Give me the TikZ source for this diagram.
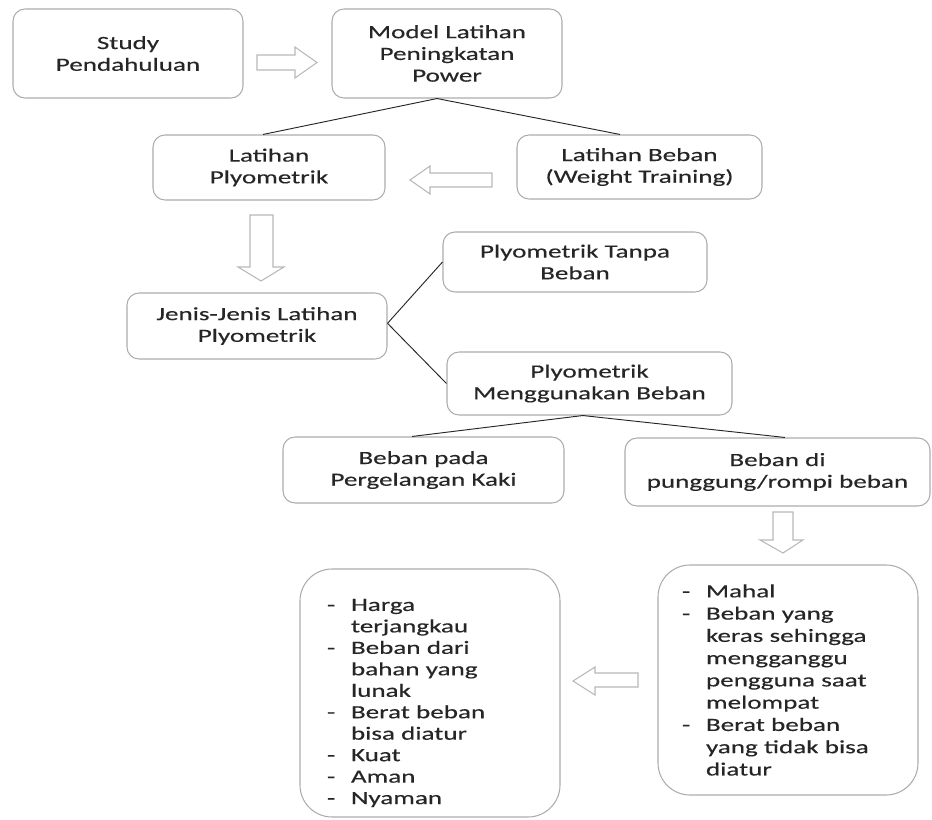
\documentclass[tikz,border=0pt]{standalone}
\usepackage{fontspec}
\setmainfont{Carlito}[FakeStretch=1.45, FakeBold=0.3]
\usepackage{xcolor}
\usepackage{tikz}
\usetikzlibrary{positioning}
\definecolor{boxgray}{RGB}{172,172,172}
\definecolor{arrgray}{RGB}{185,185,185}
\definecolor{inkgray}{RGB}{38,38,38}
\newcommand{\itm}[1]{\makebox[18pt][l]{-}#1}
\newcommand{\cnt}[1]{\hspace*{18pt}#1}

\begin{document}
\begin{tikzpicture}[x=0.75pt, y=-0.75pt,
    every node/.style={font=\fontsize{14}{16.3}\selectfont, text=inkgray},
    box/.style={draw=boxgray, line width=0.8pt, rounded corners=9pt, align=center, inner sep=0pt},
    listbox/.style={draw=boxgray, line width=0.8pt, rounded corners=24pt, align=left, inner ysep=0pt},
    blockarrow/.style={draw=arrgray, line width=0.8pt, fill=white},
    link/.style={draw=inkgray, line width=0.7pt}]
    \useasboundingbox (0,0) rectangle (932,820);

    \node[box, minimum width=172.5pt, minimum height=66.75pt] (study) at (128,53.5) {Study\\Pendahuluan};
    \node[box, minimum width=172.5pt, minimum height=66.75pt] (model) at (447,53.5) {Model Latihan\\Peningkatan\\Power};
    \node[box, minimum width=174pt, minimum height=48.75pt] (lplyo) at (269,167.5) {Latihan\\Plyometrik};
    \node[box, minimum width=183.75pt, minimum height=48pt] (lbeban) at (639.5,167) {Latihan Beban\\(Weight Training)};
    \node[box, minimum width=195pt, minimum height=49.5pt] (jenis) at (257,326) {Jenis-Jenis Latihan\\Plyometrik};
    \node[box, minimum width=198pt, minimum height=45pt] (tanpa) at (575,262) {Plyometrik Tanpa\\Beban};
    \node[box, minimum width=213.75pt, minimum height=47.25pt] (pakai) at (589.5,383.5) {Plyometrik\\Menggunakan Beban};
    \node[box, minimum width=210.75pt, minimum height=49.5pt] (kaki) at (423.5,470) {Beban pada\\Pergelangan Kaki};
    \node[box, minimum width=228.75pt, minimum height=51pt] (rompi) at (777.5,472) {Beban di\\punggung/rompi beban};

    \node[listbox, inner xsep=20.25pt, text width=154.5pt, minimum height=186pt,
          font=\fontsize{14}{16.1}\selectfont] (plus) at (430,693)
        {\itm{\rule{0pt}{24pt}Harga}\\\cnt{terjangkau}\\\itm{Beban dari}\\\cnt{bahan yang}\\\cnt{lunak}\\\itm{Berat beban}\\\cnt{bisa diatur}\\\itm{Kuat}\\\itm{Aman}\\\itm{Nyaman}};
    \node[listbox, inner xsep=18pt, text width=159pt, minimum height=172.5pt,
          font=\fontsize{14}{16.7}\selectfont] (minus) at (788,680)
        {\itm{Mahal}\\\itm{Beban yang}\\\cnt{keras sehingga}\\\cnt{mengganggu}\\\cnt{pengguna saat}\\\cnt{melompat}\\\itm{Berat beban}\\\cnt{yang tidak bisa}\\\cnt{diatur}};

    \draw[link] ([xshift=-7.5pt]model.south) -- ([xshift=-4.5pt]lplyo.north);
    \draw[link] ([xshift=-7.5pt]model.south) -- ([xshift=-14.6pt]lbeban.north);
    \draw[link] ([yshift=2pt]jenis.east) -- (tanpa.west);
    \draw[link] ([yshift=2pt]jenis.east) -- (pakai.west);
    \draw[link] ([xshift=-5pt]pakai.south) -- ([xshift=-8.6pt]kaki.north);
    \draw[link] ([xshift=-5pt]pakai.south) -- ([xshift=5.6pt]rompi.north);

    \draw[blockarrow] (257,55) -- (295,55) -- (295,47) -- (317,62.5) -- (295,78) -- (295,70) -- (257,70) -- cycle;
    \draw[blockarrow] (492,173) -- (430,173) -- (430,166) -- (410,180) -- (430,194) -- (430,187) -- (492,187) -- cycle;
    \draw[blockarrow] (250,215) -- (273,215) -- (273,267) -- (284,267) -- (261,281) -- (238,267) -- (250,267) -- cycle;
    \draw[blockarrow] (773,512) -- (793,512) -- (793,540) -- (803,540) -- (783,553) -- (760,540) -- (773,540) -- cycle;
    \draw[blockarrow] (638,673) -- (595,673) -- (595,667) -- (573,681) -- (595,695) -- (595,687) -- (638,687) -- cycle;
\end{tikzpicture}
\end{document}
